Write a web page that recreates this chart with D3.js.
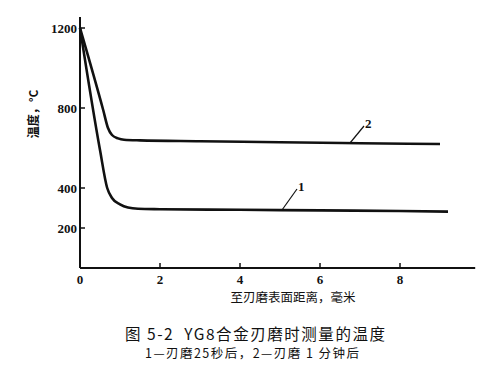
<!DOCTYPE html>
<html>
<head>
<meta charset="utf-8">
<script src="https://cdn.jsdelivr.net/npm/d3@7"></script>
<style>
  body { margin: 0; background: #fff; }
  svg text { fill: #111; }
  .num { font-family: "Liberation Serif", "DejaVu Serif", serif; font-weight: bold; font-size: 13px; }
  .cjk { font-family: "Noto Sans CJK SC", sans-serif; white-space: pre; }
</style>
</head>
<body>
<div id="chart"></div>
<script>
// curve 1: after 25 s of grinding, curve 2: after 1 min
var dist1 = [0, 0.5, 0.68, 0.8, 1.0, 1.2, 1.45, 2, 4, 6, 8, 9.2];
var temp1 = [1200, 590, 400, 350, 318, 302, 296, 294, 291, 288, 285, 282];
var dist2 = [0, 0.58, 0.7, 0.8, 0.95, 1.1, 1.5, 3, 5, 7, 9];
var temp2 = [1200, 790, 700, 665, 648, 641, 638, 634, 629, 624, 620];

var yTicks = [200, 400, 800, 1200];
var xTicks = [0, 2, 4, 6, 8];

var xTitle = "至刃磨表面距离，毫米";
var yTitle = "温度，°C";
var caption = "图 5-2  YG8合金刃磨时测量的温度";
var subCaption = "1—刃磨25秒后，2—刃磨 1 分钟后";

(function()
{
    "use strict";

    var width = 494, height = 379;

    var svg = d3.select("#chart")
                .append("svg")
                .attr("width", width)
                .attr("height", height);

    var x = d3.scaleLinear().domain([0, 10]).range([80, 480]);
    var y = d3.scaleLinear().domain([0, 1200]).range([268, 28]);

    // axes
    svg.append("line")
       .attr("x1", x(0)).attr("x2", x(0))
       .attr("y1", y(0)).attr("y2", y(1255))
       .attr("stroke", "#111").attr("stroke-width", 2);
    svg.append("line")
       .attr("x1", x(0)).attr("x2", x(9.88))
       .attr("y1", y(0)).attr("y2", y(0))
       .attr("stroke", "#111").attr("stroke-width", 2);

    // y ticks (inside)
    svg.selectAll(".ytick")
       .data(yTicks)
       .enter().append("line")
       .attr("x1", x(0)).attr("x2", x(0) + 5)
       .attr("y1", (d) => y(d)).attr("y2", (d) => y(d))
       .attr("stroke", "#111").attr("stroke-width", 1.5);
    svg.selectAll(".ylab")
       .data(yTicks)
       .enter().append("text")
       .attr("class", "num")
       .attr("x", x(0) - 3)
       .attr("y", (d) => y(d) + 4.5)
       .attr("text-anchor", "end")
       .text((d) => d);

    // x ticks (inside)
    svg.selectAll(".xtick")
       .data(xTicks.filter((d) => d > 0))
       .enter().append("line")
       .attr("x1", (d) => x(d)).attr("x2", (d) => x(d))
       .attr("y1", y(0)).attr("y2", y(0) - 5)
       .attr("stroke", "#111").attr("stroke-width", 1.5);
    svg.selectAll(".xlab")
       .data(xTicks)
       .enter().append("text")
       .attr("class", "num")
       .attr("x", (d) => x(d))
       .attr("y", y(0) + 16)
       .attr("text-anchor", "middle")
       .text((d) => d);

    // curves
    var line = d3.line()
                 .x((d) => x(d[0]))
                 .y((d) => y(d[1]))
                 .curve(d3.curveMonotoneX);

    [d3.zip(dist1, temp1), d3.zip(dist2, temp2)].forEach(function(pts) {
        svg.append("path")
           .attr("d", line(pts))
           .attr("fill", "none")
           .attr("stroke", "#111")
           .attr("stroke-width", 2.6)
           .attr("stroke-linejoin", "round");
    });

    // leader lines + curve numbers
    var labels = [
        {n: "1", at: 5.05, val: 290, dx: 15, dy: -21},
        {n: "2", at: 6.75, val: 625, dx: 14, dy: -17}
    ];
    labels.forEach(function(l) {
        var px = x(l.at), py = y(l.val);
        svg.append("line")
           .attr("x1", px).attr("y1", py)
           .attr("x2", px + l.dx).attr("y2", py + l.dy)
           .attr("stroke", "#111").attr("stroke-width", 1.2);
        svg.append("text")
           .attr("class", "num")
           .attr("x", px + l.dx + 1)
           .attr("y", py + l.dy + 2)
           .attr("font-size", 14)
           .text(l.n);
    });

    // titles
    svg.append("text")
       .attr("class", "cjk")
       .attr("transform", "translate(38," + 114 + ") rotate(-90)")
       .attr("text-anchor", "middle")
       .attr("font-size", 12)
       .attr("font-weight", "bold")
       .text(yTitle);

    svg.append("text")
       .attr("class", "cjk")
       .attr("x", 293).attr("y", 302)
       .attr("text-anchor", "middle")
       .attr("font-size", 12.5)
       .text(xTitle);

    svg.append("text")
       .attr("class", "cjk")
       .attr("x", 125).attr("y", 340)
       .attr("font-size", 15.5)
       .attr("textLength", 260)
       .attr("lengthAdjust", "spacing")
       .text(caption);

    svg.append("text")
       .attr("class", "cjk")
       .attr("x", 145).attr("y", 358)
       .attr("font-size", 12.5)
       .attr("textLength", 214)
       .attr("lengthAdjust", "spacing")
       .text(subCaption);
})();
</script>
</body>
</html>
